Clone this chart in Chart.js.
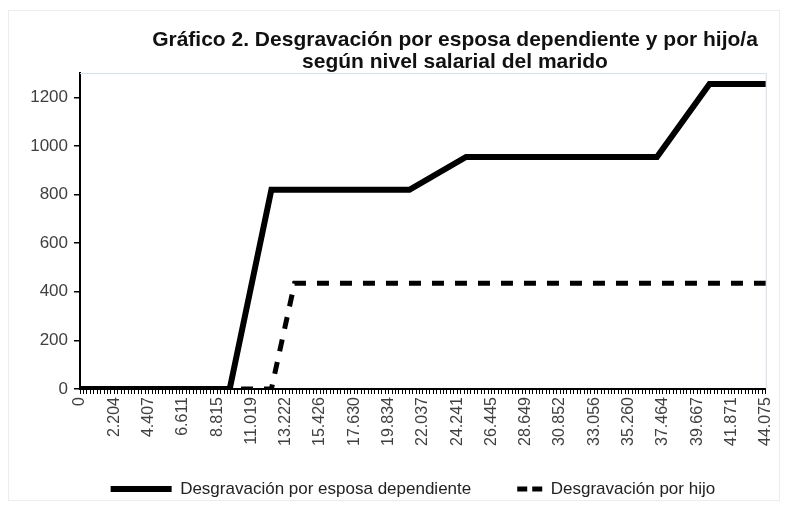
<!DOCTYPE html>
<html><head><meta charset="utf-8">
<script src="https://cdn.jsdelivr.net/npm/chart.js@4"></script>
<style>html,body{margin:0;padding:0;background:#fff}#wrap{width:788px;height:505px;position:relative}</style>
</head><body><div id="wrap"><canvas id="c" width="788" height="505"></canvas></div>
<script>
// x tick labels (salary of husband, Spanish thousands separator)
const xTickLabels = ['0','2.204','4.407','6.611','8.815','11.019','13.222','15.426','17.630','19.834','22.037','24.241','26.445','28.649','30.852','33.056','35.260','37.464','39.667','41.871','44.075'];
const salaryMax = 44075;
const minorPerLabel = 10;
// Desgravación por esposa dependiente (breakpoints)
const esposaSalary = [0, 9620, 12300, 21170, 24810, 37080, 40460, 44075];
const esposaValue  = [0, 0, 820, 820, 955, 955, 1255, 1255];
// Desgravación por hijo (breakpoints)
const hijoSalary = [0, 12300, 13790, 44075];
const hijoValue  = [0, 0, 435, 435];
const seriesNames = ['Desgravación por esposa dependiente', 'Desgravación por hijo'];
const titleLines = ['Gráfico 2. Desgravación por esposa dependiente y por hijo/a', 'según nivel salarial del marido'];
const yTicks = {min: 0, max: 1300, step: 200};

const FONT = "'Liberation Sans', Arial, sans-serif";

const framePlugin = {
  id: 'frame',
  beforeDraw(chart) {
    const c = chart.ctx;
    c.save();
    c.strokeStyle = '#ececec';
    c.lineWidth = 1;
    c.strokeRect(8.5, 10.5, 771, 490);
    c.restore();
  },
  beforeDatasetsDraw(chart) {
    const a = chart.chartArea, c = chart.ctx;
    c.save();
    c.strokeStyle = '#d6dde6';
    c.lineWidth = 1;
    c.beginPath();
    c.moveTo(a.left, a.top + 0.5);
    c.lineTo(a.right + 0.5, a.top + 0.5);
    c.lineTo(a.right + 0.5, a.bottom);
    c.stroke();
    c.restore();
  },
  afterLayout(chart) {
    const t = chart.titleBlock;
    if (t) {
      const shift = 455 - (t.left + t.right) / 2;
      t.left += shift; t.right += shift;
    }
    const l = chart.legend;
    if (l) {
      l.left -= 10; l.right -= 10;
      l.top += 2.5; l.bottom += 2.5;
    }
  }
};

new Chart(document.getElementById('c'), {
  type: 'line',
  data: {
    datasets: [
      {
        label: seriesNames[0],
        data: esposaSalary.map((x, i) => ({x: x, y: esposaValue[i]})),
        borderColor: '#000', backgroundColor: '#000',
        borderWidth: 6, pointRadius: 0, tension: 0, fill: false
      },
      {
        label: seriesNames[1],
        data: hijoSalary.map((x, i) => ({x: x, y: hijoValue[i]})),
        borderColor: '#000', backgroundColor: '#000',
        borderWidth: 5, borderDash: [12, 11], pointRadius: 0, tension: 0, fill: false
      }
    ]
  },
  options: {
    responsive: false, animation: false, devicePixelRatio: 1,
    layout: {padding: {left: 0, right: 21, top: 0, bottom: 0}},
    scales: {
      x: {
        type: 'linear', min: 0, max: salaryMax,
        afterBuildTicks(scale) {
          const n = (xTickLabels.length - 1) * minorPerLabel;
          const arr = [];
          for (let i = 0; i <= n; i++) arr.push({value: salaryMax * i / n});
          scale.ticks = arr;
        },
        afterFit(scale) { scale.height = 79; },
        ticks: {
          autoSkip: false, minRotation: 90, maxRotation: 90, padding: 3,
          color: '#404040', font: {family: FONT, size: 16},
          callback: (v, i) => (i % minorPerLabel === 0 ? xTickLabels[i / minorPerLabel] : '')
        },
        grid: {drawOnChartArea: false, drawTicks: true, tickLength: 5, color: '#000', lineWidth: 1},
        border: {color: '#000', width: 2}
      },
      y: {
        min: yTicks.min, max: yTicks.max,
        afterFit(scale) { scale.width = 80; },
        ticks: {stepSize: yTicks.step, includeBounds: false, padding: 6, color: '#404040', font: {family: FONT, size: 17},
          callback: v => String(v)},
        grid: {drawOnChartArea: false, drawTicks: true, tickLength: 6, color: '#000', lineWidth: 1.5},
        border: {color: '#000', width: 2}
      }
    },
    plugins: {
      title: {
        display: true, text: titleLines, color: '#111',
        font: {family: FONT, size: 21, weight: 'bold', lineHeight: 1.05},
        padding: {top: 29, bottom: 0}
      },
      legend: {
        position: 'bottom', fullSize: false,
        labels: {
          usePointStyle: true, pointStyle: 'line', pointStyleWidth: 61, padding: 10,
          color: '#222', font: {family: FONT, size: 17},
          generateLabels(chart) {
            const items = Chart.defaults.plugins.legend.labels.generateLabels(chart);
            items[0].lineWidth = 6;
            items[1].lineWidth = 5;
            items[1].lineDash = [0, 36, 10, 5, 10, 100];
            return items;
          }
        }
      },
      tooltip: {enabled: false}
    }
  },
  plugins: [framePlugin]
});
</script>
</body></html>
